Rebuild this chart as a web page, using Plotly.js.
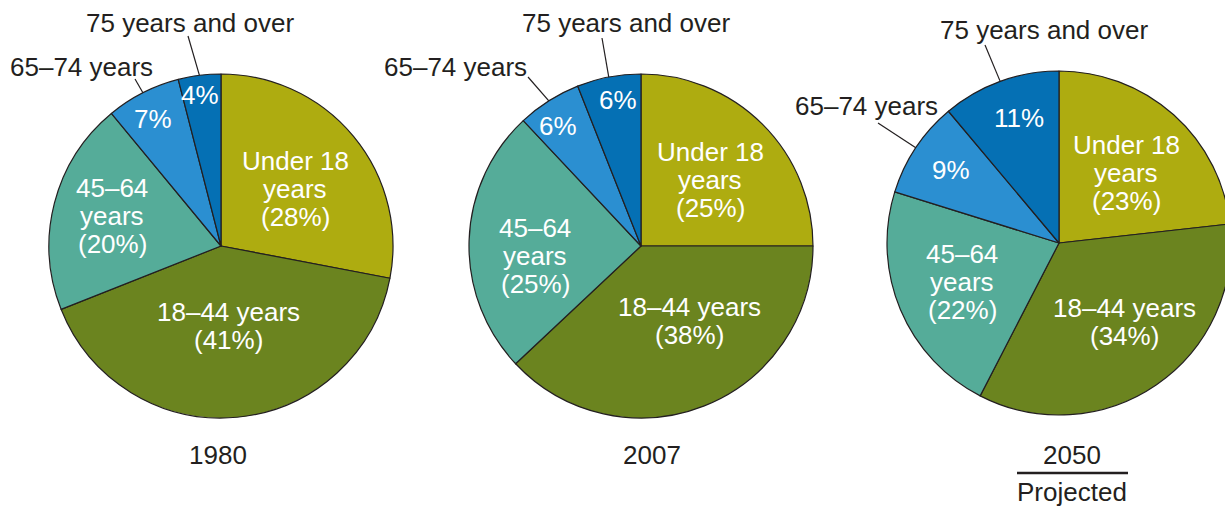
<!DOCTYPE html>
<html>
<head>
<meta charset="utf-8">
<script src="https://cdn.plot.ly/plotly-3.0.1.min.js"></script>
<style>
html,body{margin:0;padding:0;overflow:hidden;background:#fff;}
#chart{width:1235px;height:510px;}
</style>
</head>
<body>
<div id="chart"></div>
<script>
// ---- data ----
const groups = ['Under 18 years', '18–44 years', '45–64 years', '65–74 years', '75 years and over'];
const years = ['1980', '2007', '2050'];
const share1980 = [28, 41, 20, 7, 4];
const share2007 = [25, 38, 25, 6, 6];
const share2050 = [23, 34, 22, 9, 11];
const insideNames = [['Under 18', 'years'], ['18–44 years'], ['45–64', 'years'], [], []];
const outsideNames = ['', '', '', '65–74 years', '75 years and over'];
const projectedNote = 'Projected';

// ---- style / layout ----
const W = 1235, H = 510, R = 172;
const colors = ['#AEAC10', '#6B841F', '#55AC99', '#2B8FD1', '#0570B4'];
const ink = '#231F20';
const fontFam = '"Liberation Sans", Arial, Helvetica, sans-serif';
const fs = 26, lineGap = 28.3;
const shares = [share1980, share2007, share2050];
const centers = [[221, 246], [641, 246], [1059, 243]];
const insideOffsets = [
  [[74, -57], [7, 80], [-109, -30], [-68, -127], [-21, -151]],
  [[69, -66], [48, 75], [-106, 10], [-83, -120], [-23, -146]],
  [[67, -70], [65, 79], [-97, 39], [-108, -73], [-40, -125]]
];
const outsideLabelPos = [
  [null, null, null, [81, 67], [190, 23]],
  [null, null, null, [455, 67], [626, 23]],
  [null, null, null, [866, 106], [1044, 30]]
];
const leaderStart = [
  [null, null, null, [135, 79], [188, 36]],
  [null, null, null, [528, 77], [602, 38]],
  [null, null, null, [878, 123], [985, 45]]
];
const yearPos = [[218, 455], [652, 455], [1072, 455]];
const projPos = [1072, 492];
const underline = [1017, 1128, 473];

const px = x => x / W;
const py = y => 1 - y / H;

const traces = [];
const annotations = [];
const shapes = [];

shares.forEach((vals, p) => {
  const [cx, cy] = centers[p];
  traces.push({
    type: 'pie',
    labels: groups,
    values: vals,
    sort: false,
    direction: 'clockwise',
    rotation: 0,
    textinfo: 'none',
    hoverinfo: 'label+percent',
    marker: {colors: colors, line: {color: ink, width: 1.2}},
    domain: {x: [px(cx - R), px(cx + R)], y: [py(cy + R), py(cy - R)]},
    showlegend: false
  });
  const total = vals.reduce((a, b) => a + b, 0);
  let cum = 0;
  vals.forEach((v, i) => {
    const mid = 2 * Math.PI * (cum + v / 2) / total;
    cum += v;
    const lines = insideNames[i].length ? insideNames[i].concat(['(' + v + '%)']) : [v + '%'];
    const [dx, dy] = insideOffsets[p][i];
    lines.forEach((t, k) => {
      const yy = cy + dy + (k - (lines.length - 1) / 2) * lineGap;
      annotations.push({
        xref: 'paper', yref: 'paper', x: px(cx + dx), y: py(yy),
        xanchor: 'center', yanchor: 'middle', showarrow: false,
        text: t, font: {family: fontFam, size: fs, color: '#FFFFFF'}
      });
    });
    if (outsideNames[i]) {
      const [lx, ly] = outsideLabelPos[p][i];
      annotations.push({
        xref: 'paper', yref: 'paper', x: px(lx), y: py(ly),
        xanchor: 'center', yanchor: 'middle', showarrow: false,
        text: outsideNames[i], font: {family: fontFam, size: fs, color: ink}
      });
      const [sx, sy] = leaderStart[p][i];
      const ex = cx + R * Math.sin(mid), ey = cy - R * Math.cos(mid);
      shapes.push({
        type: 'line', xref: 'paper', yref: 'paper',
        x0: px(sx), y0: py(sy), x1: px(ex), y1: py(ey),
        line: {color: ink, width: 1.2}
      });
    }
  });
  annotations.push({
    xref: 'paper', yref: 'paper', x: px(yearPos[p][0]), y: py(yearPos[p][1]),
    xanchor: 'center', yanchor: 'middle', showarrow: false,
    text: years[p], font: {family: fontFam, size: fs, color: ink}
  });
});

annotations.push({
  xref: 'paper', yref: 'paper', x: px(projPos[0]), y: py(projPos[1]),
  xanchor: 'center', yanchor: 'middle', showarrow: false,
  text: projectedNote, font: {family: fontFam, size: fs, color: ink}
});
shapes.push({
  type: 'line', xref: 'paper', yref: 'paper',
  x0: px(underline[0]), x1: px(underline[1]), y0: py(underline[2]), y1: py(underline[2]),
  line: {color: ink, width: 2.5}
});

const layout = {
  width: W, height: H,
  margin: {l: 0, r: 0, t: 0, b: 0, pad: 0},
  paper_bgcolor: '#FFFFFF', plot_bgcolor: '#FFFFFF',
  font: {family: fontFam, size: fs, color: ink},
  showlegend: false,
  annotations: annotations,
  shapes: shapes
};

Plotly.newPlot('chart', traces, layout, {displayModeBar: false, staticPlot: true});
</script>
</body>
</html>
